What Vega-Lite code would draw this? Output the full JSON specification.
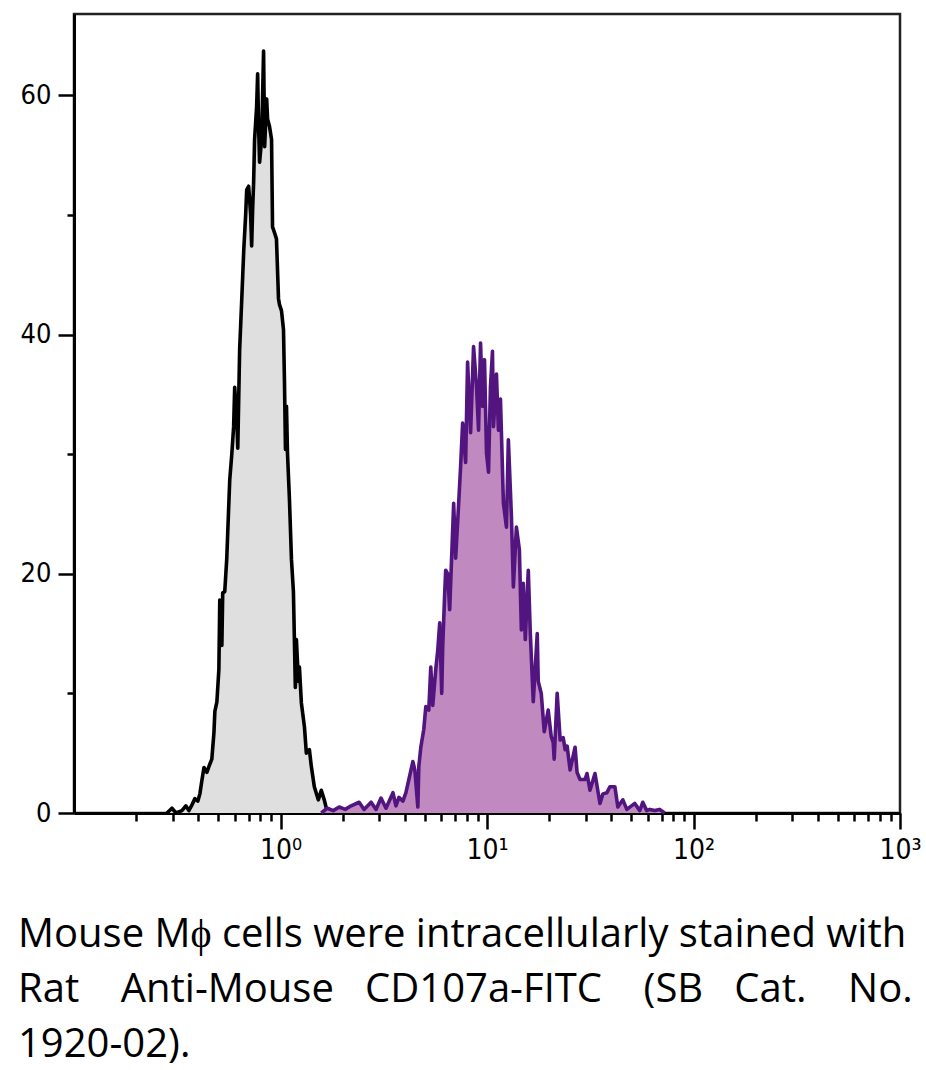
{
  "$schema": "https://vega.github.io/schema/vega-lite/v6.json",
  "width": 826,
  "height": 799,
  "autosize": {"type": "none"},
  "padding": {"left": 74, "top": 14, "right": 26, "bottom": 257},
  "background": "white",
  "config": {"view": {"stroke": "#222", "strokeWidth": 2.5}},
  "title": {
    "text": ["Mouse Mϕ cells were intracellularly stained with", "Rat\u00a0\u00a0\u00a0\u00a0Anti-Mouse\u00a0\u00a0\u00a0CD107a-FITC\u00a0\u00a0\u00a0\u00a0(SB\u00a0\u00a0\u00a0Cat.\u00a0\u00a0\u00a0\u00a0No.", "1920-02)."],
    "orient": "bottom",
    "anchor": "start",
    "frame": "group",
    "dx": -56,
    "offset": 51,
    "font": "Open Sans",
    "fontSize": 40,
    "fontWeight": "normal",
    "color": "black",
    "lineHeight": 55,
    "limit": 1000
  },
  "datasets": {
    "gray": [
      {"fl": 0.282, "count": 0}, {"fl": 0.298, "count": 0.4}, {"fl": 0.312, "count": 0}, {"fl": 0.333, "count": 0.2},
      {"fl": 0.348, "count": 0.6}, {"fl": 0.36, "count": 0.2}, {"fl": 0.373, "count": 0.7}, {"fl": 0.385, "count": 1.2},
      {"fl": 0.398, "count": 1.0}, {"fl": 0.407, "count": 1.6}, {"fl": 0.416, "count": 2.7}, {"fl": 0.426, "count": 3.8},
      {"fl": 0.44, "count": 3.4}, {"fl": 0.455, "count": 4.1}, {"fl": 0.465, "count": 4.5}, {"fl": 0.476, "count": 6.7},
      {"fl": 0.481, "count": 8.5}, {"fl": 0.492, "count": 9.3}, {"fl": 0.503, "count": 12}, {"fl": 0.508, "count": 17.8},
      {"fl": 0.514, "count": 16.5}, {"fl": 0.52, "count": 14}, {"fl": 0.525, "count": 18.4}, {"fl": 0.537, "count": 18.5},
      {"fl": 0.549, "count": 21.2}, {"fl": 0.561, "count": 25.5}, {"fl": 0.568, "count": 27.9}, {"fl": 0.581, "count": 30},
      {"fl": 0.593, "count": 32.3}, {"fl": 0.6, "count": 35.6}, {"fl": 0.614, "count": 33}, {"fl": 0.621, "count": 30.5},
      {"fl": 0.634, "count": 38.7}, {"fl": 0.649, "count": 42.9}, {"fl": 0.664, "count": 47.1}, {"fl": 0.678, "count": 50},
      {"fl": 0.686, "count": 52.1}, {"fl": 0.701, "count": 52.4}, {"fl": 0.717, "count": 50}, {"fl": 0.725, "count": 47.4},
      {"fl": 0.733, "count": 50.5}, {"fl": 0.741, "count": 52.7}, {"fl": 0.749, "count": 56.3}, {"fl": 0.766, "count": 59},
      {"fl": 0.775, "count": 61.8}, {"fl": 0.783, "count": 57.5}, {"fl": 0.792, "count": 54.4}, {"fl": 0.81, "count": 56.3},
      {"fl": 0.819, "count": 60}, {"fl": 0.828, "count": 63.7}, {"fl": 0.838, "count": 55.7}, {"fl": 0.857, "count": 59.7},
      {"fl": 0.866, "count": 58}, {"fl": 0.885, "count": 57.4}, {"fl": 0.905, "count": 56.3}, {"fl": 0.915, "count": 49},
      {"fl": 0.936, "count": 48.5}, {"fl": 0.956, "count": 48}, {"fl": 0.978, "count": 43}, {"fl": 0.989, "count": 42.5},
      {"fl": 1.011, "count": 42}, {"fl": 1.034, "count": 40.4}, {"fl": 1.045, "count": 36.2}, {"fl": 1.057, "count": 30.4},
      {"fl": 1.069, "count": 34}, {"fl": 1.081, "count": 30.1}, {"fl": 1.105, "count": 26.2}, {"fl": 1.13, "count": 21.2},
      {"fl": 1.155, "count": 18.5}, {"fl": 1.167, "count": 14.7}, {"fl": 1.18, "count": 10.5}, {"fl": 1.194, "count": 14.5},
      {"fl": 1.221, "count": 11}, {"fl": 1.235, "count": 12.2}, {"fl": 1.262, "count": 9.2}, {"fl": 1.306, "count": 7.2},
      {"fl": 1.334, "count": 5}, {"fl": 1.38, "count": 5.3}, {"fl": 1.41, "count": 3.9}, {"fl": 1.458, "count": 2.2},
      {"fl": 1.524, "count": 1.1}, {"fl": 1.576, "count": 1.9}, {"fl": 1.629, "count": 1.1}, {"fl": 1.667, "count": 0.4},
      {"fl": 1.762, "count": 0.2}, {"fl": 1.841, "count": 0}
    ],
    "purple": [
      {"fl": 1.576, "count": 0}, {"fl": 1.685, "count": 0.4}, {"fl": 1.8, "count": 0.2}, {"fl": 1.924, "count": 0.5},
      {"fl": 2.057, "count": 0.3}, {"fl": 2.199, "count": 0.6}, {"fl": 2.403, "count": 0.9}, {"fl": 2.54, "count": 0.3},
      {"fl": 2.746, "count": 0.9}, {"fl": 2.902, "count": 0.3}, {"fl": 3.067, "count": 1.25}, {"fl": 3.243, "count": 0.4},
      {"fl": 3.504, "count": 1.7}, {"fl": 3.623, "count": 0.6}, {"fl": 3.746, "count": 1.3}, {"fl": 3.916, "count": 1.0},
      {"fl": 4.048, "count": 1.7}, {"fl": 4.185, "count": 2.8}, {"fl": 4.375, "count": 4.3}, {"fl": 4.473, "count": 3.6},
      {"fl": 4.625, "count": 0.5}, {"fl": 4.676, "count": 3.9}, {"fl": 4.781, "count": 5.5}, {"fl": 4.943, "count": 7.0},
      {"fl": 5.054, "count": 8.9}, {"fl": 5.225, "count": 8.6}, {"fl": 5.343, "count": 12.2}, {"fl": 5.462, "count": 9.0},
      {"fl": 5.647, "count": 12.0}, {"fl": 5.774, "count": 13.6}, {"fl": 5.903, "count": 15.9}, {"fl": 6.036, "count": 10.0},
      {"fl": 6.103, "count": 13.9}, {"fl": 6.24, "count": 18.4}, {"fl": 6.31, "count": 20.3}, {"fl": 6.451, "count": 20},
      {"fl": 6.596, "count": 17.0}, {"fl": 6.896, "count": 25.9}, {"fl": 7.05, "count": 21.3}, {"fl": 7.208, "count": 24.3},
      {"fl": 7.453, "count": 29.0}, {"fl": 7.62, "count": 32.6}, {"fl": 7.879, "count": 29.3}, {"fl": 8.054, "count": 37.7},
      {"fl": 8.328, "count": 31.8}, {"fl": 8.609, "count": 39.0}, {"fl": 8.901, "count": 35.6}, {"fl": 9.1, "count": 32.0},
      {"fl": 9.305, "count": 39.3}, {"fl": 9.513, "count": 34.0}, {"fl": 9.727, "count": 37.9}, {"fl": 9.945, "count": 30.1},
      {"fl": 10.17, "count": 28.5}, {"fl": 10.39, "count": 35.6}, {"fl": 10.63, "count": 38.6}, {"fl": 10.75, "count": 32.3},
      {"fl": 11.11, "count": 36.7}, {"fl": 11.36, "count": 32.0}, {"fl": 11.62, "count": 34.6}, {"fl": 12.01, "count": 25.9},
      {"fl": 12.42, "count": 23.9}, {"fl": 12.69, "count": 31.2}, {"fl": 13.13, "count": 24.8}, {"fl": 13.42, "count": 18.9},
      {"fl": 13.88, "count": 23.9}, {"fl": 14.35, "count": 22.0}, {"fl": 14.67, "count": 15.3}, {"fl": 14.99, "count": 19.2},
      {"fl": 15.33, "count": 14.5}, {"fl": 15.85, "count": 20.3}, {"fl": 16.2, "count": 15.1}, {"fl": 16.75, "count": 9.3},
      {"fl": 17.51, "count": 15.0}, {"fl": 17.71, "count": 11}, {"fl": 18.31, "count": 10.0}, {"fl": 18.93, "count": 6.8},
      {"fl": 19.79, "count": 8.6}, {"fl": 20.46, "count": 6.4}, {"fl": 20.92, "count": 5.9}, {"fl": 21.15, "count": 4.5},
      {"fl": 21.87, "count": 10.0}, {"fl": 22.61, "count": 6.1}, {"fl": 23.38, "count": 6.3}, {"fl": 23.9, "count": 5.3},
      {"fl": 24.43, "count": 5.6}, {"fl": 25.26, "count": 3.6}, {"fl": 26.7, "count": 5.5}, {"fl": 27.3, "count": 3.4},
      {"fl": 28.22, "count": 2.8}, {"fl": 29.83, "count": 2.8}, {"fl": 30.5, "count": 3.3}, {"fl": 31.53, "count": 1.9},
      {"fl": 33.34, "count": 3.3}, {"fl": 35.24, "count": 0.8}, {"fl": 36.43, "count": 1.6}, {"fl": 38.08, "count": 1.7},
      {"fl": 39.37, "count": 2.2}, {"fl": 41.62, "count": 2.2}, {"fl": 43.02, "count": 0.5}, {"fl": 45.49, "count": 1.1},
      {"fl": 47.55, "count": 0.3}, {"fl": 51.96, "count": 0.8}, {"fl": 54.93, "count": 0.2}, {"fl": 56.79, "count": 0.9},
      {"fl": 59.37, "count": 0.2}, {"fl": 61.38, "count": 0.3}, {"fl": 64.87, "count": 0.2}, {"fl": 68.57, "count": 0.3},
      {"fl": 72.48, "count": 0}
    ]
  },
  "encoding": {
    "x": {
      "field": "fl",
      "type": "quantitative",
      "scale": {"type": "log", "domain": [0.1, 1000], "nice": false},
      "axis": {
        "title": null,
        "grid": false,
        "values": [0.2, 0.3, 0.4, 0.5, 0.6, 0.7, 0.8, 0.9, 1, 2, 3, 4, 5, 6, 7, 8, 9, 10, 20, 30, 40, 50, 60, 70, 80, 90, 100, 200, 300, 400, 500, 600, 700, 800, 900, 1000],
        "domainColor": "black",
        "domainWidth": 3,
        "tickColor": "black",
        "tickWidth": 2.5,
        "tickSize": {"condition": {"test": "datum.value == 1 || datum.value == 10 || datum.value == 100 || datum.value == 1000", "value": 16}, "value": 8},
        "labelExpr": "datum.value == 1 ? '10⁰' : datum.value == 10 ? '10¹' : datum.value == 100 ? '10²' : datum.value == 1000 ? '10³' : ''",
        "labelFont": "Liberation Sans Narrow, DejaVu Sans Condensed, Liberation Sans, sans-serif",
        "labelFontSize": 28,
        "labelColor": "black",
        "labelPadding": 7,
        "labelOverlap": false,
        "labelFlush": false,
        "labelBound": false
      }
    },
    "y": {
      "field": "count",
      "type": "quantitative",
      "scale": {"domain": [0, 66.8], "nice": false, "zero": true},
      "axis": {
        "title": null,
        "grid": false,
        "values": [0, 10, 20, 30, 40, 50, 60],
        "domainColor": "black",
        "domainWidth": 3,
        "tickColor": "black",
        "tickWidth": 2.5,
        "tickSize": {"condition": {"test": "datum.value % 20 == 0", "value": 16}, "value": 7},
        "labelExpr": "datum.value % 20 == 0 ? datum.label : ''",
        "labelFont": "Liberation Sans Narrow, DejaVu Sans Condensed, Liberation Sans, sans-serif",
        "labelFontSize": 27,
        "labelColor": "black",
        "labelPadding": 7,
        "labelOverlap": false,
        "labelFlush": false,
        "labelBound": false
      }
    }
  },
  "layer": [
    {
      "data": {"name": "gray"},
      "mark": {"type": "area", "color": "#dfdfdf", "opacity": 1}
    },
    {
      "data": {"name": "gray"},
      "mark": {"type": "line", "color": "#000000", "strokeWidth": 3.6, "strokeJoin": "round"}
    },
    {
      "data": {"name": "purple"},
      "mark": {"type": "area", "color": "#c08ac0", "opacity": 1}
    },
    {
      "data": {"name": "purple"},
      "mark": {"type": "line", "color": "#52157f", "strokeWidth": 3.6, "strokeJoin": "round"}
    }
  ]
}
